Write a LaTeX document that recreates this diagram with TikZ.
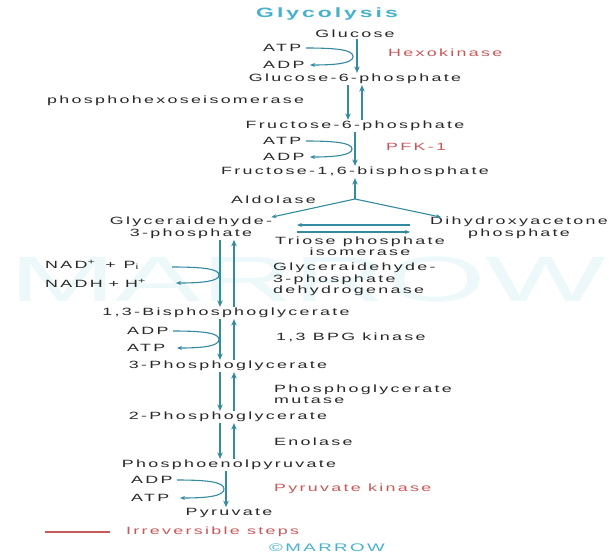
\documentclass[tikz,border=0pt]{standalone}
\usepackage{fontspec}
\setmainfont{Liberation Sans}[FakeStretch=1.7,LetterSpace=22]
\newfontfamily\wmfont{Liberation Sans}
\usetikzlibrary{arrows.meta}

\definecolor{ink}{RGB}{40,40,40}
\definecolor{flowc}{RGB}{52,138,160}
\definecolor{titlec}{RGB}{72,178,204}
\definecolor{enzred}{RGB}{200,88,90}
\definecolor{wmark}{RGB}{236,248,250}

\tikzset{
  lbl/.style={font=\fontsize{10.5}{11.5}\selectfont, text=ink, inner sep=1pt},
  lblw/.style={lbl, anchor=west},
  redlbl/.style={lblw, text=enzred},
  flow/.style={draw=flowc, line width=2pt, -{Stealth[length=6.5pt,width=5.5pt]}},
  side/.style={draw=flowc, line width=1.1pt, -{Stealth[length=5pt,width=4pt]}},
}

\begin{document}
\begin{tikzpicture}[x=1pt,y=-1pt]
\path[use as bounding box, fill=white] (0,0) rectangle (609,557);

% faint background lettering
\node[text=wmark, inner sep=0] (wm) at (308,279)
  {\scalebox{2.0}[1]{\wmfont\fontsize{64}{64}\selectfont MARROW}};

% title
\node[font=\fontsize{13.5}{14}\bfseries\selectfont, text=titlec, inner sep=1pt] (title) at (327,14) {Glycolysis};

% hexose part
\node[lbl]  (glc) at (355,34) {Glucose};
\node[lblw] (atp1) at (262,48) {ATP};
\node[lblw] (adp1) at (262,65) {ADP};
\node[redlbl] (hk) at (387,53) {Hexokinase};
\node[lbl]  (g6p) at (355,79) {Glucose-6-phosphate};
\node[lblw] (phi) at (46,101) {phosphohexoseisomerase};
\node[lbl]  (f6p) at (355,126) {Fructose-6-phosphate};
\node[lblw] (atp2) at (262,141) {ATP};
\node[lblw] (adp2) at (262,157) {ADP};
\node[redlbl] (pfk) at (385,147) {PFK-1};
\node[lbl]  (f16) at (355,172) {Fructose-1,6-bisphosphate};
\node[lblw] (aldo) at (230,200) {Aldolase};

% triose part
\node[lbl, align=center] (gap) at (191,228) {Glyceraidehyde-\\3-phosphate};
\node[lbl, align=center] (dhap) at (519,228) {Dihydroxyacetone\\phosphate};
\node[lbl, align=center] (tpi) at (360,246) {Triose phosphate\\isomerase};

\node[lblw] (nad) at (44,265) {NAD\textsuperscript{+}\hspace{10pt}+\hspace{8pt}P\textsubscript{i}};
\node[lblw] (nadh) at (44,283) {NADH\hspace{6pt}+\hspace{6pt}H\textsuperscript{+}};
\node[lblw, align=left] (gapdh) at (272,279.5) {Glyceraidehyde-\\3-phosphate\\dehydrogenase};
\node[lbl]  (bpg) at (226,313) {1,3-Bisphosphoglycerate};
\node[lblw] (adp3) at (126,331) {ADP};
\node[lblw] (atp3) at (126,348) {ATP};
\node[lblw] (bpgk) at (275,337) {1,3 BPG kinase};
\node[lbl]  (pg3) at (228,366) {3-Phosphoglycerate};
\node[lblw, align=left] (pgm) at (273,394) {Phosphoglycerate\\mutase};
\node[lbl]  (pg2) at (228,417) {2-Phosphoglycerate};
\node[lblw] (eno) at (273,442) {Enolase};
\node[lbl]  (pep) at (229,465) {Phosphoenolpyruvate};
\node[lblw] (adp4) at (130,480) {ADP};
\node[lblw] (atp4) at (130,498) {ATP};
\node[redlbl] (pk) at (273,489) {Pyruvate kinase};
\node[lbl]  (pyr) at (229,513) {Pyruvate};

% legend
\coordinate (legA) at (45,532);
\coordinate (legB) at (110,532);
\draw[enzred, line width=1.4pt] (legA) -- (legB);
\node[redlbl] (irr) at (125,532) {Irreversible steps};
\node[font=\fontsize{11}{12}\selectfont, text=titlec, inner sep=1pt] (mark) at (327,548) {©MARROW};

% vertical axes of the lower half
\coordinate (dnL) at (220,0);
\coordinate (dnR) at (234,0);

% hexose steps
\draw[flow] ([xshift=2pt]glc.south) -- ([xshift=2pt]g6p.north);
\draw[flow] ([xshift=-7pt]g6p.south) -- ([xshift=-7pt]f6p.north);
\draw[flow] ([xshift=7pt]f6p.north) -- ([xshift=7pt]g6p.south);
\draw[flow] (f6p.south) -- (f16.north);

% cofactor arcs, hexokinase and PFK-1
\coordinate (h1) at (306,48);  \coordinate (h2) at (310,65);
\draw[side] (h1) .. controls (338,48) and (353,50) .. (353,56.5)
                 .. controls (353,63) and (338,65) .. (h2);
\coordinate (p1) at (306,141); \coordinate (p2) at (310,157);
\draw[side] (p1) .. controls (336,141) and (352,143) .. (352,149)
                 .. controls (352,155) and (336,157) .. (p2);

% aldolase split
\coordinate (split) at (355,199);
\draw[flow] (split) -- (f16.south);
\draw[side] (split) -- ([xshift=-2pt,yshift=-1pt]gap.north east);
\draw[side] (split) -- ([xshift=12pt,yshift=-1pt]dhap.north west);

% triose phosphate isomerase
\coordinate (t1) at (410,225); \coordinate (t2) at (297,225);
\coordinate (t3) at (297,232); \coordinate (t4) at (410,232);
\draw[side] (t1) -- (t2);
\draw[side] (t3) -- (t4);

% lower half steps
\draw[flow] (gap.south -| dnL) -- (bpg.north -| dnL);
\draw[flow] (bpg.north -| dnR) -- (gap.south -| dnR);
\draw[flow] (bpg.south -| dnL) -- (pg3.north -| dnL);
\draw[flow] (pg3.north -| dnR) -- (bpg.south -| dnR);
\draw[flow] (pg3.south -| dnL) -- (pg2.north -| dnL);
\draw[flow] (pg2.north -| dnR) -- (pg3.south -| dnR);
\draw[flow] (pg2.south -| dnL) -- (pep.north -| dnL);
\draw[flow] (pep.north -| dnR) -- (pg2.south -| dnR);
\draw[flow] ([xshift=-3pt]pep.south) -- ([xshift=-3pt]pyr.north);

% cofactor arcs, lower half
\coordinate (g1) at (172,267); \coordinate (g2) at (176,283);
\draw[side] (g1) .. controls (204,267) and (219,269) .. (219,275)
                 .. controls (219,281) and (204,283) .. (g2);
\coordinate (b1) at (173,331); \coordinate (b2) at (177,348);
\draw[side] (b1) .. controls (204,331) and (219,333) .. (219,339.5)
                 .. controls (219,346) and (204,348) .. (b2);
\coordinate (k1) at (177,480); \coordinate (k2) at (180,498);
\draw[side] (k1) .. controls (208,480) and (224,482) .. (224,489)
                 .. controls (224,496) and (208,498) .. (k2);
\end{tikzpicture}
\end{document}
